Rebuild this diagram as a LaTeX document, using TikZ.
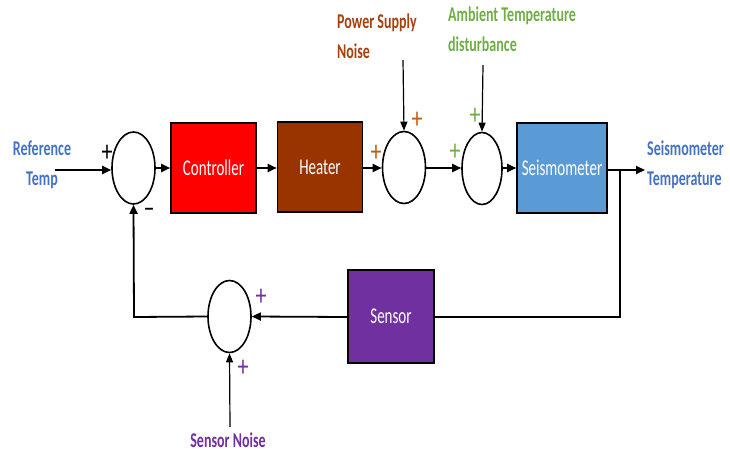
\documentclass[tikz,border=0pt]{standalone}
\usepackage{fontspec}
\setmainfont{Carlito}
\usetikzlibrary{arrows.meta,shapes.geometric}
\definecolor{cred}{HTML}{FF0000}
\definecolor{cheat}{HTML}{993300}
\definecolor{cseis}{HTML}{5B9BD5}
\definecolor{csens}{HTML}{7030A0}
\definecolor{lblue}{HTML}{4472C4}
\definecolor{lbrown}{HTML}{A5410F}
\definecolor{lgreen}{HTML}{70AD47}
\definecolor{pbrown}{HTML}{C55A11}
\newcommand{\vs}[1]{\scalebox{1}[1.5]{#1}}
\newcommand{\vp}[1]{\scalebox{1}[1.35]{#1}}
\tikzset{
  blk/.style={draw=black,line width=1.6pt,minimum width=85pt,minimum height=90pt,text=white,font=\fontsize{15}{18}\selectfont,inner sep=0pt},
  sumj/.style={draw=black,line width=1.6pt,ellipse,minimum width=43pt,minimum height=72pt,inner sep=0pt},
  sig/.style={line width=1.8pt,-{Triangle[length=9pt,width=8pt]}},
  inp/.style={line width=1.2pt,-{Triangle[length=9pt,width=7pt]}},
  wire/.style={line width=1.8pt},
  lbl/.style={font=\bfseries\fontsize{14}{30}\selectfont,align=left,inner sep=0pt},
  sgn/.style={font=\fontsize{22}{22}\selectfont,inner sep=0pt}
}
\begin{document}
\begin{tikzpicture}[x=1pt,y=-1pt]
\useasboundingbox (0,0) rectangle (730,452);
\node[sumj] (s1) at (133.5,168) {};
\node[blk,fill=cred] (ctrl) at (213.5,168) {\vs{Controller}};
\node[blk,fill=cheat] (heat) at (320,167) {\vs{Heater}};
\node[sumj] (s2) at (404,167.5) {};
\node[sumj,minimum width=40pt] (s3) at (482,168.5) {};
\node[blk,fill=cseis,minimum width=90pt] (seis) at (562,168) {\vs{Seismometer}};
\node[blk,fill=csens,minimum width=86pt,minimum height=93pt] (sens) at (391,316.5) {\vs{Sensor}};
\node[sumj] (s4) at (229.5,316.5) {};

\coordinate (in) at (55,170);
\coordinate (out) at (645,170);
\coordinate (br) at (620,170);
\coordinate (brd) at (620,317);
\coordinate (fbl) at (134,317);
\coordinate (psn) at (403,60);
\coordinate (atd) at (483,65);
\coordinate (snn) at (230,427);

\draw[sig] (in) -- (s1.west |- in);
\draw[sig] (s1.east) -- (ctrl.west);
\draw[sig] (ctrl.east) -- (heat.west |- ctrl.east);
\draw[sig] (heat.east |- 0,168) -- (s2.west |- 0,168);
\draw[sig] (s2.east |- 0,168) -- (s3.west |- 0,168);
\draw[sig] (s3.east |- 0,168) -- (seis.west |- 0,168);
\draw[sig] (seis.east |- out) -- (out);
\draw[wire] (br) -- (brd) -- (sens.east |- brd);
\draw[sig] (sens.west |- brd) -- (s4.east);
\draw[sig] (s4.west) -- (fbl) -- (s1.south);
\draw[inp] (psn) -- (s2.north);
\draw[inp] (atd) -- (s3.north);
\draw[inp] (snn) -- (s4.south);

\node[lbl,text=lblue,align=center] (rt) at (42,165) {\vs{Reference}\\\vs{Temp}};
\node[lbl,text=lbrown,anchor=west] (ps) at (337,36) {\vs{Power Supply}\\\vs{Noise}};
\node[lbl,text=lgreen,anchor=west] (at) at (448,29) {\vs{Ambient Temperature}\\\vs{disturbance}};
\node[lbl,text=lblue,anchor=west] (st) at (647,165) {\vs{Seismometer}\\\vs{Temperature}};
\node[lbl,text=csens] (sn) at (228,440) {\vs{Sensor Noise}};

\node[sgn] (p1) at (107,153) {\vp{+}};
\node[sgn] (m1) at (149,213) {\vp{\textendash}};
\node[sgn,text=pbrown] (p2a) at (417,120) {\vp{+}};
\node[sgn,text=pbrown] (p2b) at (376,153) {\vp{+}};
\node[sgn,text=lgreen] (p3a) at (475,116) {\vp{+}};
\node[sgn,text=lgreen] (p3b) at (455,152) {\vp{+}};
\node[sgn,text=csens] (p4a) at (261,297) {\vp{+}};
\node[sgn,text=csens] (p4b) at (243,368) {\vp{+}};
\end{tikzpicture}
\end{document}
